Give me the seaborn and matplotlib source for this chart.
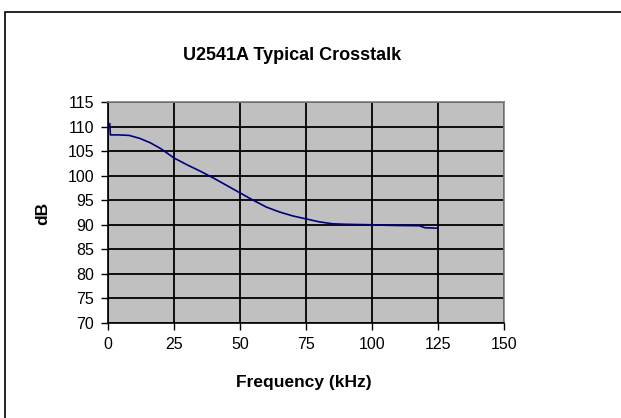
import numpy as np
import pandas as pd
import seaborn as sns
import matplotlib.pyplot as plt
from matplotlib.patches import Rectangle

## data
freq_khz = [0.7, 0.9, 4, 8, 12, 16, 20, 25, 30, 35, 40, 45, 50, 55, 60, 65,
            70, 75, 80, 85, 90, 100, 105, 110, 118, 120, 125]
crosstalk_db = [110.6, 108.3, 108.3, 108.2, 107.6, 106.7, 105.5, 103.6, 102.2,
                100.9, 99.5, 98.0, 96.5, 95.0, 93.6, 92.6, 91.8, 91.2, 90.6,
                90.2, 90.1, 90.0, 89.9, 89.85, 89.8, 89.4, 89.3]
x_ticks = [0, 25, 50, 75, 100, 125, 150]
y_ticks = [70, 75, 80, 85, 90, 95, 100, 105, 110, 115]

df = pd.DataFrame({"freq": freq_khz, "db": crosstalk_db})

sns.set_theme(style="white")
plt.rcParams['font.family'] = ['Liberation Sans', 'DejaVu Sans']
plt.rcParams['text.color'] = 'black'
plt.rcParams['xtick.color'] = 'black'
plt.rcParams['ytick.color'] = 'black'

W, H = 621, 418
fig = plt.figure(figsize=(W / 100, H / 100), dpi=100)
ax = fig.add_axes([108 / W, 1 - 323 / H, (504 - 108) / W, (323 - 102) / H])
ax.set_facecolor("#C0C0C0")

sns.lineplot(data=df, x="freq", y="db", sort=False, estimator=None,
             color="#000080", linewidth=1.2, ax=ax)

ax.set_xlim(0, 150)
ax.set_ylim(70, 115)
ax.set_xticks(x_ticks)
ax.set_yticks(y_ticks)
ax.grid(True, color="black", linewidth=1.3)
ax.set_axisbelow(True)
ax.tick_params(axis="both", direction="out", length=5, width=1, color="black",
               labelcolor="black", labelsize=11.5, pad=5, bottom=True, left=True)
for side in ["left", "bottom"]:
    ax.spines[side].set_color("black")
    ax.spines[side].set_linewidth(1.2)
for side in ["top", "right"]:
    ax.spines[side].set_color("#808080")
    ax.spines[side].set_linewidth(1.2)

ax.set_xlabel("")
ax.set_ylabel("")
fig.text(292 / W, 1 - 56 / H, "U2541A Typical Crosstalk", ha="center",
         va="center", fontsize=13, fontweight="bold")
fig.text(304 / W, 1 - 382 / H, "Frequency (kHz)", ha="center", va="center",
         fontsize=12.5, fontweight="bold")
fig.text(43 / W, 1 - 213 / H, "dB", ha="center", va="center", rotation=90,
         fontsize=12.5, fontweight="bold")

# chart frame, only left and top edges fall inside the picture
fig.patches.append(Rectangle((5 / W, -0.1), 1.2, 1.1 - 12 / H,
                             transform=fig.transFigure, fill=False,
                             edgecolor="black", linewidth=1.2))

fig.savefig("out.png", dpi=100)
